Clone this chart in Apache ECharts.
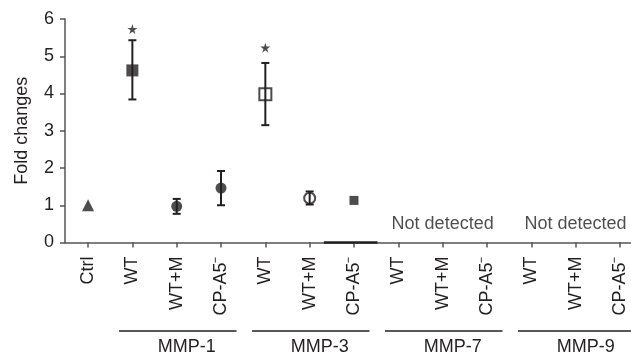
<!DOCTYPE html>
<html>
<head>
<meta charset="utf-8">
<script src="https://cdn.jsdelivr.net/npm/echarts@6/dist/echarts.min.js"></script>
<style>
  html, body { margin: 0; padding: 0; background: #fff; }
  #chart { width: 631px; height: 357px; }
</style>
</head>
<body>
<div id="chart"></div>
<script>
// tick labels along the x axis (index = x position)
const categories = ['Ctrl', 'WT', 'WT+M', 'CP-A5\u207B', 'WT', 'WT+M', 'CP-A5\u207B',
  'WT', 'WT+M', 'CP-A5\u207B', 'WT', 'WT+M', 'CP-A5\u207B'];
const groupNames = ['MMP-1', 'MMP-3', 'MMP-7', 'MMP-9'];
const groupStart = [1, 4, 7, 10];
const groupEnd = [3, 6, 9, 12];

// measured fold changes (position -> mean, SD range)
const pointPos = [0, 1, 2, 3, 4, 5, 6];
const meanValues = [1.0, 4.62, 0.97, 1.46, 3.98, 1.19, 1.13];
const errLow = [null, 3.84, 0.77, 1.0, 3.15, 1.02, null];
const errHigh = [null, 5.43, 1.17, 1.92, 4.82, 1.37, null];
const pointShape = ['triangle', 'rect', 'circle', 'circle', 'rect', 'circle', 'rect'];
const pointOpen = [false, false, false, false, true, true, false];
const pointSize = [12, 12, 11, 11, 12, 11, 9];

const starPos = [1, 4];
const starValues = [5.73, 5.23];

const notDetectedPos = [8, 11];
const notDetectedY = [0.5, 0.5];

const ink = '#231f20';
const axisGray = '#555';
const font = '"Liberation Sans", Arial, Helvetica, sans-serif';

const chart = echarts.init(document.getElementById('chart'), null, { renderer: 'canvas' });

const starPath = 'path://M50,0 L61,35 L98,35 L68,57 L79,91 L50,70 L21,91 L32,57 L2,35 L39,35 Z';

const scatterData = pointPos.map((x, i) => ({
  value: [x, meanValues[i]],
  symbol: pointShape[i],
  symbolSize: pointSize[i],
  itemStyle: pointOpen[i]
    ? { color: 'rgba(0,0,0,0)', borderColor: ink, borderWidth: 2 }
    : { color: ink }
}));

const errData = pointPos
  .map((x, i) => [x, errLow[i], errHigh[i]])
  .filter(d => d[1] != null);

const groupData = groupNames.map((g, i) => [groupStart[i], groupEnd[i], g]);

chart.setOption({
  animation: false,
  grid: { left: 65, right: 0, top: 19, bottom: 114.5, outerBoundsMode: 'none', containLabel: false },
  xAxis: {
    type: 'value',
    min: -0.52,
    max: 12.25,
    splitLine: { show: false },
    axisLine: { onZero: false, lineStyle: { color: axisGray, width: 1.5 } },
    axisTick: {
      customValues: categories.map((c, i) => i),
      length: 5,
      lineStyle: { color: axisGray, width: 1.5 }
    },
    axisLabel: {
      customValues: categories.map((c, i) => i),
      formatter: v => categories[Math.round(v)],
      rotate: 90,
      margin: 14,
      fontSize: 18,
      color: ink,
      fontFamily: font
    }
  },
  yAxis: {
    type: 'value',
    min: 0,
    max: 6,
    interval: 1,
    name: 'Fold changes',
    nameLocation: 'middle',
    nameRotate: 90,
    nameGap: 34,
    nameMoveOverlap: false,
    nameTextStyle: { fontSize: 18, color: ink, fontFamily: font },
    splitLine: { show: false },
    axisLine: { show: true, onZero: false, lineStyle: { color: axisGray, width: 1.5 } },
    axisTick: { show: true, length: 5, lineStyle: { color: axisGray, width: 1.5 } },
    axisLabel: { fontSize: 18, color: ink, fontFamily: font, margin: 11 }
  },
  series: [
    {
      // dark stretch on the baseline under MMP-3 CP-A5-
      type: 'line',
      data: [[5.32, 0], [6.53, 0]],
      symbol: 'none',
      lineStyle: { color: '#222', width: 2.5 },
      clip: false,
      z: 3
    },
    {
      type: 'custom',
      data: errData,
      z: 4,
      renderItem: (params, api) => {
        const x = api.value(0);
        const lo = api.coord([x, api.value(1)]);
        const hi = api.coord([x, api.value(2)]);
        const cap = 4;
        const style = { stroke: ink, lineWidth: 2 };
        return {
          type: 'group',
          children: [
            { type: 'line', shape: { x1: lo[0], y1: lo[1], x2: hi[0], y2: hi[1] }, style },
            { type: 'line', shape: { x1: lo[0] - cap, y1: lo[1], x2: lo[0] + cap, y2: lo[1] }, style },
            { type: 'line', shape: { x1: hi[0] - cap, y1: hi[1], x2: hi[0] + cap, y2: hi[1] }, style }
          ]
        };
      }
    },
    {
      type: 'scatter',
      data: scatterData,
      z: 5
    },
    {
      type: 'scatter',
      data: starPos.map((x, i) => [x, starValues[i]]),
      symbol: starPath,
      symbolSize: 10,
      itemStyle: { color: ink },
      z: 5
    },
    {
      type: 'scatter',
      data: notDetectedPos.map((x, i) => [x, notDetectedY[i]]),
      symbolSize: 0,
      label: {
        show: true,
        formatter: 'Not detected',
        position: 'inside',
        fontSize: 18,
        color: ink,
        fontFamily: font
      }
    },
    {
      // group brackets below the tick labels
      type: 'custom',
      data: groupData,
      clip: false,
      renderItem: (params, api) => {
        const a = api.coord([api.value(0) - 0.3, 0]);
        const b = api.coord([api.value(1) + 0.35, 0]);
        const y = a[1] + 88.5;
        return {
          type: 'group',
          children: [
            { type: 'line', shape: { x1: a[0], y1: y, x2: b[0], y2: y }, style: { stroke: ink, lineWidth: 1.5 } },
            {
              type: 'text',
              x: (a[0] + b[0]) / 2 + 9,
              y: y + 7,
              style: {
                text: groupNames[params.dataIndex],
                fill: ink,
                font: '18px ' + font,
                textAlign: 'center',
                textVerticalAlign: 'top'
              }
            }
          ]
        };
      }
    }
  ]
});
</script>
</body>
</html>
